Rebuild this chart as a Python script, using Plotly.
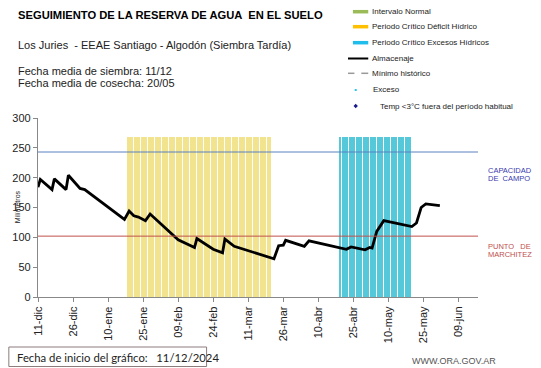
import plotly.graph_objects as go
import pandas as pd

# ---------------- data ----------------
fechas = [
    "2024-12-11", "2024-12-12", "2024-12-17", "2024-12-18", "2024-12-23", "2024-12-24",
    "2024-12-29", "2024-12-31", "2025-01-17", "2025-01-19", "2025-01-21", "2025-01-23",
    "2025-01-26", "2025-01-28", "2025-02-09", "2025-02-16", "2025-02-17", "2025-02-24",
    "2025-02-28", "2025-03-01", "2025-03-05", "2025-03-22", "2025-03-24", "2025-03-26",
    "2025-03-27", "2025-04-04", "2025-04-06", "2025-04-22", "2025-04-24", "2025-04-30",
    "2025-05-02", "2025-05-03", "2025-05-05", "2025-05-06", "2025-05-08", "2025-05-20",
    "2025-05-22", "2025-05-24", "2025-05-26", "2025-06-01",
]
almacenaje = [
    184, 197, 180, 198, 180, 204,
    182, 180, 130, 144, 136, 134,
    128, 139, 96, 83, 98, 80,
    74, 97, 85, 64, 86, 87,
    95, 85, 94, 80, 84, 79,
    83, 82, 110, 116, 128, 118,
    124, 150, 156, 153,
]
capacidad_campo = 243
punto_marchitez = 102

deficit_inicio, deficit_fin = "2025-01-18", "2025-03-20"
exceso_inicio, exceso_fin = "2025-04-19", "2025-05-19"
altura_periodo = 268

tick_fechas = ["2024-12-11", "2024-12-26", "2025-01-10", "2025-01-25", "2025-02-09",
               "2025-02-24", "2025-03-11", "2025-03-26", "2025-04-10", "2025-04-25",
               "2025-05-10", "2025-05-25", "2025-06-09"]
tick_etiquetas = ["11-dic", "26-dic", "10-ene", "25-ene", "09-feb", "24-feb", "11-mar",
                  "26-mar", "10-abr", "25-abr", "10-may", "25-may", "09-jun"]
y_ticks = [0, 50, 100, 150, 200, 250, 300]

legend_labels = ["Intervalo Normal", "Periodo Crítico Déficit Hídrico",
                 "Periodo Crítico Excesos Hídricos", "Almacenaje", "Mínimo histórico",
                 "Exceso", "Temp <3°C fuera del período habitual"]

# ---------------- layout geometry ----------------
W, H = 541, 368
L, R, T, B = 33, 63, 118, 71
PW, PH = W - L - R, H - T - B
FONT = "Liberation Sans, Arial, sans-serif"
DAY = 86400000


def fx(px):
    return (px - L) / PW


def fy(py):
    return (H - B - py) / PH


fig = go.Figure()

dias_def = pd.date_range(deficit_inicio, deficit_fin, freq="D")
dias_exc = pd.date_range(exceso_inicio, exceso_fin, freq="D")

fig.add_trace(go.Bar(x=dias_def, y=[altura_periodo] * len(dias_def),
                     width=0.66 * DAY, offset=0.12 * DAY,
                     marker=dict(color="#F2E38F", line_width=0),
                     showlegend=False, hoverinfo="skip"))
fig.add_trace(go.Bar(x=dias_exc, y=[altura_periodo] * len(dias_exc),
                     width=0.66 * DAY, offset=0.12 * DAY,
                     marker=dict(color="#55C9DA", line_width=0),
                     showlegend=False, hoverinfo="skip"))

fig.add_trace(go.Scatter(x=fechas, y=almacenaje, mode="lines",
                         line=dict(color="black", width=2.8),
                         showlegend=False))

shapes = [
    dict(type="line", xref="x domain", yref="y", x0=0, x1=1,
         y0=capacidad_campo, y1=capacidad_campo, line=dict(color="#5B80BE", width=1)),
    dict(type="line", xref="x domain", yref="y", x0=0, x1=1,
         y0=punto_marchitez, y1=punto_marchitez, line=dict(color="#C0504D", width=1)),
]

annotations = []


def txt(text, x, y, size, color="#222", bold=False, anchor="left", family=FONT, **kw):
    annotations.append(dict(text=("<b>%s</b>" % text) if bold else text,
                            x=fx(x), y=fy(y), xref="paper", yref="paper",
                            xanchor=anchor, yanchor="middle", showarrow=False,
                            font=dict(size=size, color=color, family=family), **kw))


# titles
txt("SEGUIMIENTO DE LA RESERVA DE AGUA  EN EL SUELO", 11, 15, 11.2, color="#000", bold=True)
txt("Los Juries  - EEAE Santiago - Algodón (Siembra Tardía)", 11, 45, 11)
txt("Fecha media de siembra: 11/12", 11, 71, 11)
txt("Fecha media de cosecha: 20/05", 11, 82.5, 11)

# legend (manual)
leg_y = [11.7, 26.7, 42.7, 58.5, 73.3, 90, 106]
bar_cols = ["#9BBB59", "#FFC000", "#1FBDEB"]
for i in range(3):
    shapes.append(dict(type="line", xref="paper", yref="paper",
                       x0=fx(351.5), x1=fx(367), y0=fy(leg_y[i]), y1=fy(leg_y[i]),
                       line=dict(color=bar_cols[i], width=3.5)))
shapes.append(dict(type="line", xref="paper", yref="paper",
                   x0=fx(346.5), x1=fx(367), y0=fy(leg_y[3]), y1=fy(leg_y[3]),
                   line=dict(color="black", width=2)))
shapes.append(dict(type="line", xref="paper", yref="paper",
                   x0=fx(346.5), x1=fx(353), y0=fy(leg_y[4]), y1=fy(leg_y[4]),
                   line=dict(color="#999", width=1.5)))
shapes.append(dict(type="line", xref="paper", yref="paper",
                   x0=fx(360), x1=fx(367), y0=fy(leg_y[4]), y1=fy(leg_y[4]),
                   line=dict(color="#999", width=1.5)))
shapes.append(dict(type="rect", xref="paper", yref="paper",
                   x0=fx(353.3), x1=fx(355.3), y0=fy(leg_y[5] - 1), y1=fy(leg_y[5] + 1),
                   fillcolor="#27C4E8", line_width=0))
shapes.append(dict(type="path", xref="paper", yref="paper",
                   path="M %f %f L %f %f L %f %f L %f %f Z" % (
                       fx(354.3), fy(leg_y[6] - 2.2), fx(356.5), fy(leg_y[6]),
                       fx(354.3), fy(leg_y[6] + 2.2), fx(352.1), fy(leg_y[6])),
                   fillcolor="#1A1A8C", line_width=0))
leg_x = [369, 369, 369, 369, 369, 370, 376.5]
for lbl, lx, ly in zip(legend_labels, leg_x, leg_y):
    txt(lbl, lx, ly, 8, color="#222")

# right labels
txt("CAPACIDAD", 486.5, 170.7, 7.5, color="#3A3AB0")
txt("DE  CAMPO", 486.5, 178.5, 7.5, color="#3A3AB0")
txt("PUNTO   DE", 486.5, 246.7, 7.5, color="#C0504D")
txt("MARCHITEZ", 486.5, 254.5, 7.5, color="#C0504D")

# y-axis title
annotations.append(dict(text="Milímetros", x=fx(12), y=fy(207), xref="paper", yref="paper",
                        xanchor="center", yanchor="middle", showarrow=False, textangle=-90,
                        font=dict(size=7, color="#222", family=FONT)))

# bottom box
shapes.append(dict(type="rect", xref="paper", yref="paper",
                   x0=fx(3.5), x1=fx(203.5), y0=fy(347), y1=fy(366.5),
                   line=dict(color="#8C7C7C", width=1), fillcolor="white"))
txt("Fecha de inicio del gráfico:   11/12/2024", 10, 357, 11.3, color="#222",
    family="Lato, Open Sans, sans-serif")
txt("WWW.ORA.GOV.AR", 409.5, 360.5, 9, color="#555")

fig.update_layout(
    width=W, height=H,
    margin=dict(l=L, r=R, t=T, b=B, pad=0),
    paper_bgcolor="white", plot_bgcolor="white",
    barmode="overlay", bargap=0,
    showlegend=False,
    font=dict(family=FONT, size=11, color="#222"),
    shapes=shapes, annotations=annotations,
    xaxis=dict(type="date", range=["2024-12-11", "2025-06-17 08:00"],
               tickmode="array", tickvals=tick_fechas, ticktext=tick_etiquetas,
               tickangle=-90, ticks="outside", ticklen=4, tickcolor="#888",
               showline=True, linecolor="#888", linewidth=1.2,
               showgrid=False, zeroline=False,
               tickfont=dict(size=11, color="#222", family=FONT)),
    yaxis=dict(range=[0, 300], tickmode="array", tickvals=y_ticks,
               ticks="outside", ticklen=4, tickcolor="#888",
               showline=True, linecolor="#888", linewidth=1.2,
               showgrid=False, zeroline=False,
               tickfont=dict(size=11, color="#222", family=FONT)),
)

fig.write_html("out.html", config={"displayModeBar": False},
               post_script="document.body.style.margin='0';document.body.style.overflow='hidden';")
